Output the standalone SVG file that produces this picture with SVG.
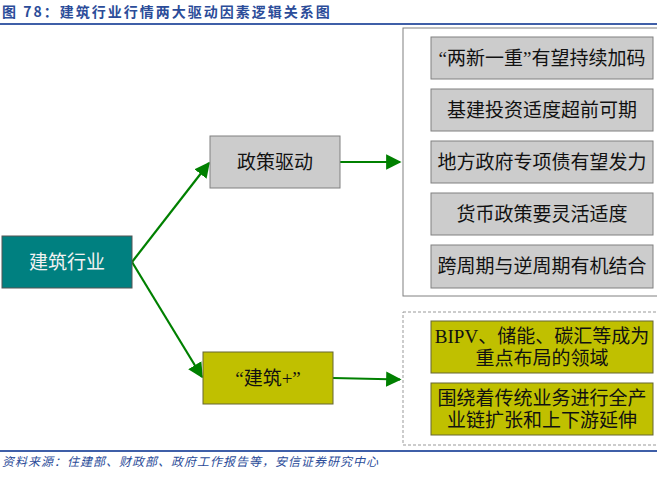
<svg xmlns="http://www.w3.org/2000/svg" width="657" height="479" viewBox="0 0 657 479">
<defs>
<style>
.t{font-family:"Liberation Serif","Noto Sans CJK SC",serif;font-size:19px;fill:#111;text-anchor:middle}
.g{fill:#CCCCCC;stroke:#808080;stroke-width:1}
.y{fill:#C0C000;stroke:#666633;stroke-width:1}
.c{stroke:#008000;stroke-width:2.2;fill:none;marker-end:url(#ah)}
</style>
<marker id="ah" viewBox="0 0 10 10" refX="9" refY="5" markerWidth="7" markerHeight="7" markerUnits="strokeWidth" orient="auto">
<path d="M0,0 L10,5 L0,10 z" fill="#008000"/>
</marker>
</defs>
<rect width="657" height="479" fill="#fff"/>
<g id="title">
<text x="2" y="17" font-family="'Noto Sans CJK SC','Liberation Sans',sans-serif" font-size="14" font-weight="bold" fill="#2B4C99" letter-spacing="2">图 78：建筑行业行情两大驱动因素逻辑关系图</text>
<line x1="0" y1="24" x2="657" y2="24" stroke="#3F5FA8" stroke-width="2"/>
</g>
<g id="frames">
<rect x="403" y="28" width="260" height="268" fill="none" stroke="#808080" stroke-width="1"/>
<rect x="403" y="312" width="260" height="133" fill="none" stroke="#999" stroke-width="1" stroke-dasharray="3,2"/>
</g>
<g id="connectors">
<line class="c" x1="132" y1="262" x2="209" y2="163"/>
<line class="c" x1="132" y1="262" x2="202" y2="377"/>
<line class="c" x1="340" y1="162" x2="400" y2="162"/>
<line class="c" x1="333" y1="378" x2="400" y2="379.5"/>
</g>
<g id="n-industry">
<rect x="2" y="236" width="130" height="52" fill="#008080" stroke="#555" stroke-width="1"/>
<text class="t" x="67" y="269" style="fill:#F2F2F2">建筑行业</text>
</g>
<g id="n-policy">
<rect class="g" x="210" y="136" width="130" height="52"/>
<text class="t" x="275" y="169">政策驱动</text>
</g>
<g id="n-plus">
<rect class="y" x="203" y="352" width="130" height="52"/>
<text class="t" x="268" y="385">“建筑+”</text>
</g>
<g id="p1"><rect class="g" x="431" y="37" width="222" height="42"/><text class="t" x="542" y="65">“两新一重”有望持续加码</text></g>
<g id="p2"><rect class="g" x="431" y="89" width="222" height="42"/><text class="t" x="542" y="117">基建投资适度超前可期</text></g>
<g id="p3"><rect class="g" x="431" y="141" width="222" height="42"/><text class="t" x="542" y="169">地方政府专项债有望发力</text></g>
<g id="p4"><rect class="g" x="431" y="193" width="222" height="42"/><text class="t" x="542" y="221">货币政策要灵活适度</text></g>
<g id="p5"><rect class="g" x="431" y="245" width="222" height="43"/><text class="t" x="542" y="273">跨周期与逆周期有机结合</text></g>
<g id="b1"><rect class="y" x="431" y="321" width="222" height="52"/><text class="t" x="542" y="343">BIPV、储能、碳汇等成为</text><text class="t" x="542" y="365">重点布局的领域</text></g>
<g id="b2"><rect class="y" x="431" y="383" width="222" height="52"/><text class="t" x="542" y="405">围绕着传统业务进行全产</text><text class="t" x="542" y="427">业链扩张和上下游延伸</text></g>
<g id="footer">
<line x1="0" y1="451" x2="657" y2="451" stroke="#3F5FA8" stroke-width="2"/>
<text x="2" y="466" font-family="'Noto Sans CJK SC',sans-serif" font-size="12" font-style="italic" fill="#2B4C99" letter-spacing="1">资料来源：住建部、财政部、政府工作报告等，安信证券研究中心</text>
</g>
</svg>
